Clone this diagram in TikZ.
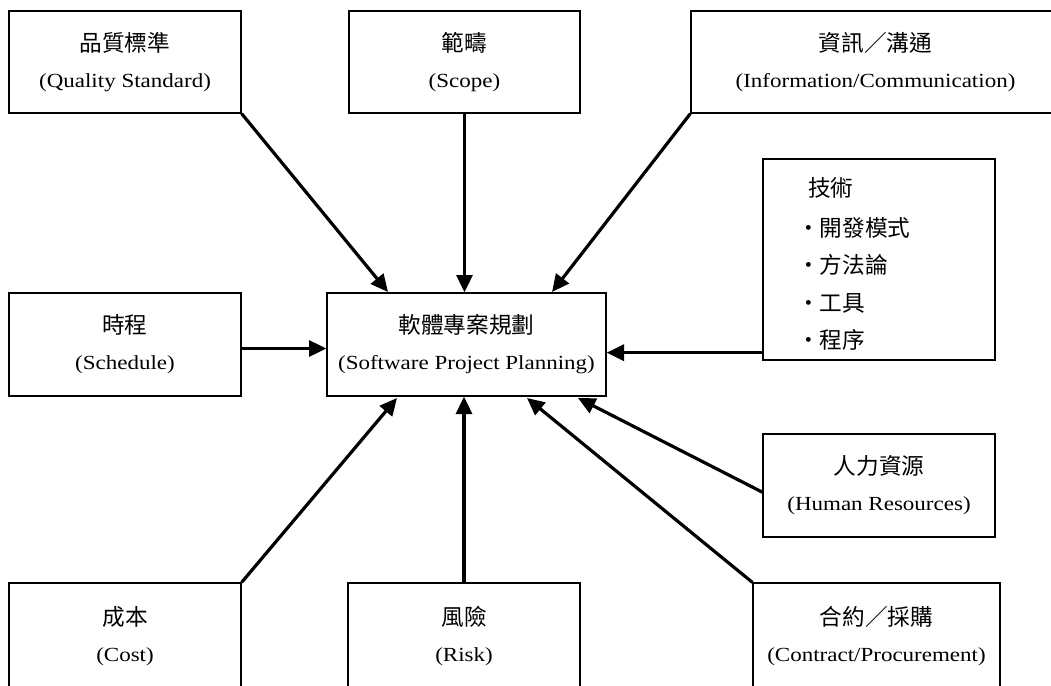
\documentclass[tikz,border=0pt]{standalone}
\usepackage{fontspec}
\usetikzlibrary{arrows.meta}
\newfontfamily\cjk{Noto Sans CJK TC}
\newfontfamily\en{Liberation Serif}[FakeStretch=1.15]
\newcommand\twoline[2]{{\cjk\fontsize{17}{18}\selectfont #1}\\[9pt]{\en\fontsize{15}{18}\selectfont #2}}
\tikzset{
  box/.style={draw, line width=1pt, inner sep=0pt, align=center, font=\fontsize{15}{18}\selectfont},
  arr/.style={-{Triangle[length=13pt,width=12pt]}, line width=2.4pt},
  txt/.style={anchor=west, inner sep=0pt, font=\cjk\fontsize{17}{18}\selectfont}
}
\begin{document}
\begin{tikzpicture}[x=0.75pt,y=-0.75pt]
\clip (0,0) rectangle (1051,686);
\fill[white] (0,0) rectangle (1051,686);
% boxes
\node[box, minimum width=232*0.75pt, minimum height=102*0.75pt] (qs) at (125,62) {\twoline{品質標準}{(Quality Standard)}};
\node[box, minimum width=231*0.75pt, minimum height=102*0.75pt] (scope) at (464.5,62) {\twoline{範疇}{(Scope)}};
\node[box, minimum width=369*0.75pt, minimum height=102*0.75pt] (info) at (875.5,62) {\twoline{資訊／溝通}{(Information/Communication)}};
\node[box, minimum width=232*0.75pt, minimum height=201*0.75pt] (tech) at (879,259.5) {};
\node[box, minimum width=232*0.75pt, minimum height=103*0.75pt] (sched) at (125,344.5) {\twoline{時程}{(Schedule)}};
\node[box, minimum width=279*0.75pt, minimum height=103*0.75pt] (center) at (466.5,344.5) {\twoline{軟體專案規劃}{(Software Project Planning)}};
\node[box, minimum width=232*0.75pt, minimum height=103*0.75pt] (hr) at (879,485.5) {\twoline{人力資源}{(Human Resources)}};
\node[box, minimum width=232*0.75pt, minimum height=107*0.75pt] (cost) at (125,636.5) {\twoline{成本}{(Cost)}};
\node[box, minimum width=232*0.75pt, minimum height=107*0.75pt] (risk) at (464,636.5) {\twoline{風險}{(Risk)}};
\node[box, minimum width=247*0.75pt, minimum height=107*0.75pt] (contract) at (876.5,636.5) {\twoline{合約／採購}{(Contract/Procurement)}};
% technology text
\node[txt] (t0) at (808,188) {技術};
\node[txt] (t1) at (797,228) {・開發模式};
\node[txt] (t2) at (797,265) {・方法論};
\node[txt] (t3) at (797,303) {・工具};
\node[txt] (t4) at (797,340) {・程序};
% arrow end points
\coordinate (e1) at (388,292);
\coordinate (e3) at (552,292);
\coordinate (e6) at (578,398);
\coordinate (e7) at (527,398);
\coordinate (e8) at (397,398);
\coordinate (tw) at ([yshift=6pt]tech.south west);
% arrows
\draw[arr] (qs.south east) -- (e1);
\draw[arr] (scope.south) -- (scope.south |- center.north);
\draw[arr] (info.south west) -- (e3);
\draw[arr] (tw) -- (tw -| center.east);
\draw[arr] ([yshift=-3pt]sched.east) -- ([yshift=-3pt]center.west);
\draw[arr] ([yshift=-5pt]hr.west) -- (e6);
\draw[arr] (contract.north west) -- (e7);
\draw[arr] (cost.north east) -- (e8);
\draw[arr] (risk.north) -- (risk.north |- center.south);
\end{tikzpicture}
\end{document}
